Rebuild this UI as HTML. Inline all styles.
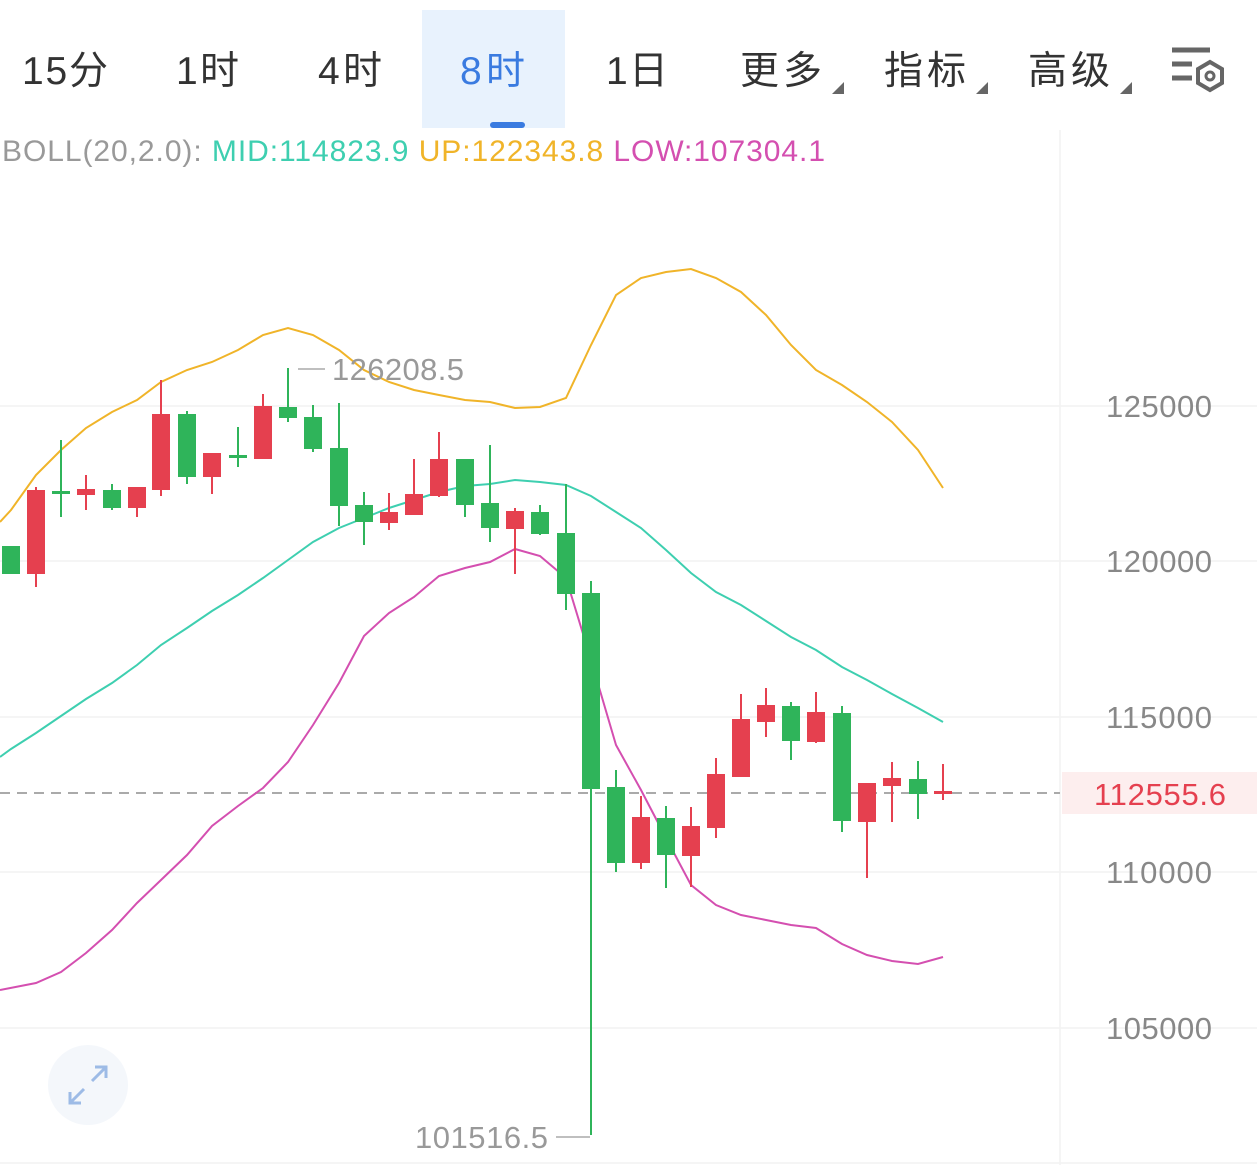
<!DOCTYPE html>
<html><head><meta charset="utf-8"><style>
html,body{margin:0;padding:0;background:#fff;}
svg{display:block;font-family:"Liberation Sans","Noto Sans CJK SC",sans-serif;}
</style></head><body>
<svg width="1257" height="1165" viewBox="0 0 1257 1165" xmlns="http://www.w3.org/2000/svg">
<rect width="1257" height="1165" fill="#fff"/>
<rect x="422" y="10" width="143" height="118" fill="#e8f2fd"/>
<rect x="490" y="122" width="35" height="6" rx="3" fill="#3a7be0"/>
<g font-size="39" fill="#333">
<text x="22" y="84" textLength="86">15分</text>
<text x="176" y="84" textLength="63">1时</text>
<text x="318" y="84" textLength="64">4时</text>
<text x="460" y="84" fill="#3a7be0" textLength="65">8时</text>
<text x="606" y="84" textLength="62">1日</text>
<text x="740" y="84" textLength="82">更多</text>
<text x="884" y="84" textLength="82">指标</text>
<text x="1028" y="84" textLength="82">高级</text>
</g>
<g fill="#666">
<polygon points="832,94 844,94 844,82"/>
<polygon points="976,94 988,94 988,82"/>
<polygon points="1120,94 1132,94 1132,82"/>
</g>
<g stroke="#666" stroke-width="5" fill="none">
<line x1="1172" y1="50" x2="1210" y2="50"/>
<line x1="1172" y1="64" x2="1192" y2="64"/>
<line x1="1172" y1="78" x2="1192" y2="78"/>
<polygon points="1210,62 1222,69 1222,83 1210,90 1198,83 1198,69" stroke-width="4"/>
<circle cx="1210" cy="76" r="4" stroke-width="3"/>
</g>
<text x="2" y="161" font-size="30" textLength="823" lengthAdjust="spacing"><tspan fill="#999">BOLL(20,2.0): </tspan><tspan fill="#3ecfb0">MID:114823.9 </tspan><tspan fill="#f0b429">UP:122343.8 </tspan><tspan fill="#d44fb0">LOW:107304.1</tspan></text>
<g stroke="#f2f2f2" stroke-width="1.5">
<line x1="0" y1="406" x2="1257" y2="406"/>
<line x1="0" y1="561" x2="1257" y2="561"/>
<line x1="0" y1="717" x2="1257" y2="717"/>
<line x1="0" y1="872" x2="1257" y2="872"/>
<line x1="0" y1="1028" x2="1257" y2="1028"/>
<line x1="1060" y1="130" x2="1060" y2="1165"/>
<line x1="0" y1="1163" x2="1257" y2="1163"/>
</g>
<g font-size="31" fill="#888" text-anchor="middle">
<text x="1159" y="417" textLength="106">125000</text>
<text x="1159" y="572" textLength="106">120000</text>
<text x="1159" y="728" textLength="106">115000</text>
<text x="1159" y="883" textLength="106">110000</text>
<text x="1159" y="1039" textLength="106">105000</text>
</g>
<rect x="1062" y="772" width="195" height="42" fill="#fdeeee"/>
<text x="1160" y="805" font-size="31" fill="#e5404f" text-anchor="middle" textLength="132">112555.6</text>
<line x1="0" y1="793" x2="1060" y2="793" stroke="#aaa" stroke-width="2" stroke-dasharray="10,7"/>
<g fill="none" stroke-width="2">
<polyline stroke="#f0b429" points="0,522 11,510 36,475 61,450 86,428 112,412 137,400 161,382 187,370 212,362 238,350 263,335 288,328 313,335 339,350 364,370 389,382 414,390 439,395 465,400 490,402 515,408 540,407 566,398 591,345 616,295 641,278 666,272 691,269 716,278 741,292 766,315 791,345 816,370 842,385 867,402 892,422 918,450 943,488"/>
<polyline stroke="#3ecfb0" points="0,757 11,749 36,733 61,716 86,699 112,683 137,665 161,645 187,628 212,611 238,595 263,578 288,560 313,542 339,528 364,518 389,508 414,500 439,492 465,486 490,484 515,480 540,482 566,485 591,496 616,512 641,528 666,550 691,573 716,592 741,605 766,621 791,637 816,650 842,667 867,680 892,694 918,708 943,722"/>
<polyline stroke="#d44fb0" points="0,990 36,983 61,972 86,953 112,930 137,903 161,880 187,855 212,826 238,806 263,788 288,762 313,725 339,683 364,636 389,613 414,597 439,576 465,568 490,562 515,549 540,556 566,578 591,660 616,745 641,790 666,838 691,885 716,905 741,915 766,920 791,925 816,928 842,944 867,955 892,961 918,964 943,957"/>
</g>
<g stroke-width="2">
<g stroke="#2fb45a" fill="#2fb45a">
<line x1="11" y1="546" x2="11" y2="574"/><rect x="3" y="547" width="16" height="26"/>
<line x1="61" y1="440" x2="61" y2="517"/><rect x="53" y="492" width="16" height="1"/>
<line x1="112" y1="484" x2="112" y2="510"/><rect x="104" y="491" width="16" height="16"/>
<line x1="187" y1="411" x2="187" y2="484"/><rect x="179" y="415" width="16" height="61"/>
<line x1="238" y1="427" x2="238" y2="467"/><rect x="230" y="456" width="16" height="1"/>
<line x1="288" y1="368" x2="288" y2="422"/><rect x="280" y="408" width="16" height="9"/>
<line x1="313" y1="405" x2="313" y2="452"/><rect x="305" y="418" width="16" height="30"/>
<line x1="339" y1="403" x2="339" y2="526"/><rect x="331" y="449" width="16" height="56"/>
<line x1="364" y1="492" x2="364" y2="545"/><rect x="356" y="506" width="16" height="15"/>
<line x1="465" y1="460" x2="465" y2="517"/><rect x="457" y="460" width="16" height="44"/>
<line x1="490" y1="445" x2="490" y2="542"/><rect x="482" y="504" width="16" height="23"/>
<line x1="540" y1="505" x2="540" y2="535"/><rect x="532" y="513" width="16" height="20"/>
<line x1="566" y1="484" x2="566" y2="610"/><rect x="558" y="534" width="16" height="59"/>
<line x1="591" y1="581" x2="591" y2="1135"/><rect x="583" y="594" width="16" height="194"/>
<line x1="616" y1="770" x2="616" y2="872"/><rect x="608" y="788" width="16" height="74"/>
<line x1="666" y1="806" x2="666" y2="888"/><rect x="658" y="819" width="16" height="35"/>
<line x1="791" y1="702" x2="791" y2="760"/><rect x="783" y="707" width="16" height="33"/>
<line x1="842" y1="706" x2="842" y2="832"/><rect x="834" y="714" width="16" height="106"/>
<line x1="918" y1="761" x2="918" y2="819"/><rect x="910" y="780" width="16" height="13"/>
</g>
<g stroke="#e5404f" fill="#e5404f">
<line x1="36" y1="487" x2="36" y2="587"/><rect x="28" y="491" width="16" height="82"/>
<line x1="86" y1="475" x2="86" y2="510"/><rect x="78" y="490" width="16" height="4"/>
<line x1="137" y1="487" x2="137" y2="517"/><rect x="129" y="488" width="16" height="19"/>
<line x1="161" y1="380" x2="161" y2="496"/><rect x="153" y="415" width="16" height="74"/>
<line x1="212" y1="454" x2="212" y2="494"/><rect x="204" y="454" width="16" height="22"/>
<line x1="263" y1="394" x2="263" y2="458"/><rect x="255" y="407" width="16" height="51"/>
<line x1="389" y1="493" x2="389" y2="530"/><rect x="381" y="513" width="16" height="9"/>
<line x1="414" y1="459" x2="414" y2="514"/><rect x="406" y="495" width="16" height="19"/>
<line x1="439" y1="432" x2="439" y2="497"/><rect x="431" y="460" width="16" height="35"/>
<line x1="515" y1="508" x2="515" y2="574"/><rect x="507" y="512" width="16" height="16"/>
<line x1="641" y1="796" x2="641" y2="869"/><rect x="633" y="818" width="16" height="44"/>
<line x1="691" y1="807" x2="691" y2="887"/><rect x="683" y="827" width="16" height="28"/>
<line x1="716" y1="758" x2="716" y2="838"/><rect x="708" y="775" width="16" height="52"/>
<line x1="741" y1="694" x2="741" y2="776"/><rect x="733" y="720" width="16" height="56"/>
<line x1="766" y1="688" x2="766" y2="737"/><rect x="758" y="706" width="16" height="15"/>
<line x1="816" y1="692" x2="816" y2="743"/><rect x="808" y="713" width="16" height="28"/>
<line x1="867" y1="784" x2="867" y2="878"/><rect x="859" y="784" width="16" height="37"/>
<line x1="892" y1="762" x2="892" y2="822"/><rect x="884" y="779" width="16" height="6"/>
<line x1="943" y1="764" x2="943" y2="800"/><rect x="935" y="792" width="16" height="1"/>
</g>
</g>
<line x1="298" y1="369" x2="325" y2="369" stroke="#aaa" stroke-width="1.5"/>
<text x="332" y="380" font-size="31" fill="#999" textLength="132">126208.5</text>
<line x1="556" y1="1137" x2="590" y2="1137" stroke="#aaa" stroke-width="1.5"/>
<text x="415" y="1148" font-size="31" fill="#999" textLength="133">101516.5</text>
<circle cx="88" cy="1085" r="40" fill="#f4f7fb"/>
<g stroke="#9dbbe6" stroke-width="3" fill="none">
<line x1="70" y1="1103" x2="84" y2="1089"/><polyline points="70,1092 70,1103 81,1103"/>
<line x1="106" y1="1067" x2="92" y2="1081"/><polyline points="95,1067 106,1067 106,1078"/>
</g>
</svg>
</body></html>
